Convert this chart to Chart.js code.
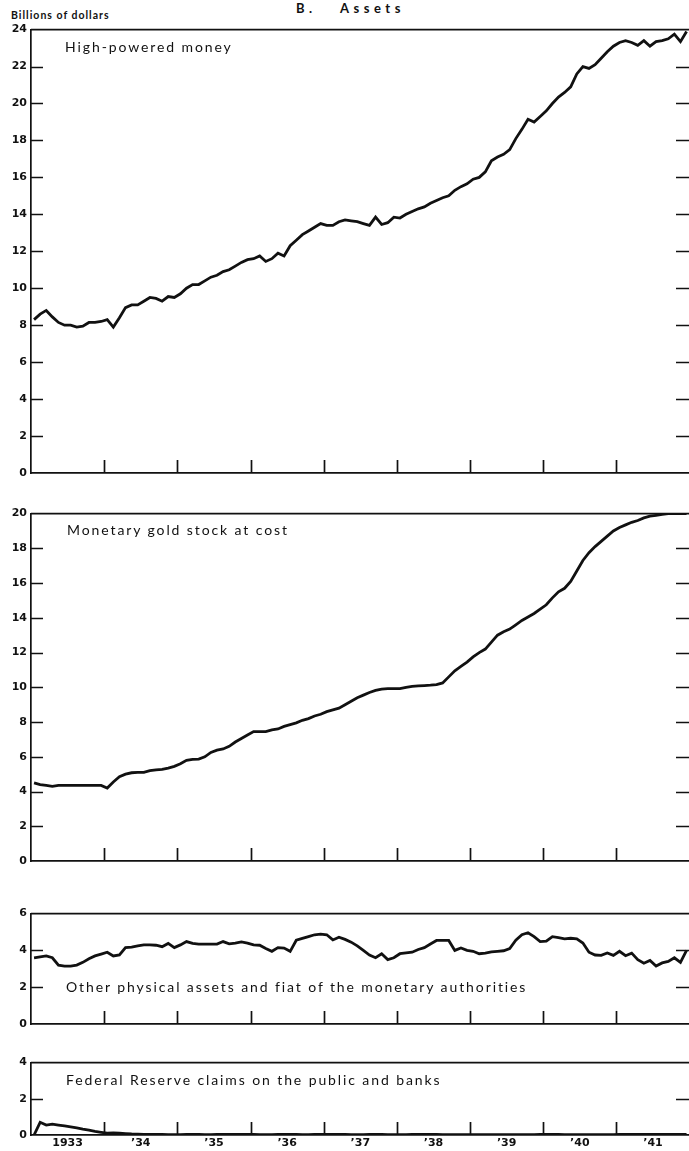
<!DOCTYPE html>
<html>
<head>
<meta charset="utf-8">
<script src="https://cdn.jsdelivr.net/npm/chart.js@4.4.1/dist/chart.umd.min.js"></script>
<style>
  html, body { margin: 0; padding: 0; background: #fff; }
  #page { position: relative; width: 689px; height: 1151px; overflow: hidden; font-family: "Lato", "DejaVu Sans", sans-serif; color: #111; }
  .cv { position: absolute; left: 0; }
  .txt { position: absolute; white-space: nowrap; line-height: 1; }
  .title { top: 2px; font-size: 13px; font-weight: bold; letter-spacing: 4.5px; }
  .unit { top: 10px; left: 11px; font-size: 10.5px; font-weight: bold; letter-spacing: 1px; }
  .lbl { font-size: 14px; letter-spacing: 1.9px; }
</style>
</head>
<body>
<div id="page">
  <div class="txt title" style="left:296px">B.</div>
  <div class="txt title" style="left:340px">Assets</div>
  <div class="txt unit">Billions of dollars</div>

  <canvas id="c1" class="cv" style="top:19px"></canvas>
  <canvas id="c2" class="cv" style="top:503px"></canvas>
  <canvas id="c3" class="cv" style="top:903px"></canvas>
  <canvas id="c4" class="cv" style="top:1052px"></canvas>

  <div class="txt lbl" style="left:65px;top:40px">High-powered money</div>
  <div class="txt lbl" style="left:67px;top:523px">Monetary gold stock at cost</div>
  <div class="txt lbl" style="left:66px;top:980px">Other physical assets and fiat of the monetary authorities</div>
  <div class="txt lbl" style="left:66px;top:1073px">Federal Reserve claims on the public and banks</div>
</div>

<script>
// monthly values, Jan 1933 .. Dec 1941, billions of dollars
const highPowered = [
  8.3, 8.6, 8.8, 8.45, 8.15, 8.0, 8.0, 7.9, 7.95, 8.15,
  8.15, 8.2, 8.3, 7.9, 8.4, 8.95, 9.1, 9.1, 9.3, 9.5,
  9.45, 9.3, 9.55, 9.5, 9.7, 10.0, 10.2, 10.2, 10.4, 10.6,
  10.7, 10.9, 11.0, 11.2, 11.4, 11.55, 11.6, 11.75, 11.45, 11.6,
  11.9, 11.75, 12.3, 12.6, 12.9, 13.1, 13.3, 13.5, 13.4, 13.4,
  13.6, 13.7, 13.65, 13.6, 13.5, 13.4, 13.85, 13.45, 13.55, 13.85,
  13.8, 14.0, 14.15, 14.3, 14.4, 14.6, 14.75, 14.9, 15.0, 15.3,
  15.5, 15.65, 15.9, 16.0, 16.3, 16.9, 17.1, 17.25, 17.5, 18.1,
  18.6, 19.15, 19.0, 19.3, 19.6, 20.0, 20.35, 20.6, 20.9, 21.6,
  22.0, 21.9, 22.1, 22.45, 22.8, 23.1, 23.3, 23.4, 23.3, 23.15,
  23.4, 23.1, 23.35, 23.4, 23.5, 23.75, 23.35, 23.9
];
const goldStock = [
  4.5, 4.4, 4.35, 4.3, 4.35, 4.35, 4.35, 4.35, 4.35, 4.35,
  4.35, 4.35, 4.2, 4.55, 4.85, 5.0, 5.08, 5.1, 5.1, 5.2,
  5.25, 5.27, 5.35, 5.45, 5.6, 5.8, 5.85, 5.87, 6.0, 6.25,
  6.38, 6.45, 6.6, 6.85, 7.05, 7.25, 7.45, 7.45, 7.45, 7.55,
  7.6, 7.75, 7.85, 7.95, 8.1, 8.2, 8.35, 8.45, 8.6, 8.7,
  8.8, 9.0, 9.2, 9.4, 9.55, 9.7, 9.82, 9.9, 9.92, 9.92,
  9.92, 10.0, 10.05, 10.08, 10.1, 10.12, 10.15, 10.25, 10.6, 10.95,
  11.2, 11.45, 11.75, 12.0, 12.2, 12.6, 13.0, 13.2, 13.35, 13.6,
  13.85, 14.05, 14.25, 14.5, 14.75, 15.15, 15.5, 15.7, 16.1, 16.7,
  17.3, 17.75, 18.1, 18.4, 18.7, 19.0, 19.2, 19.35, 19.5, 19.6,
  19.75, 19.85, 19.9, 19.95, 20.0, 20.0, 20.0, 20.0
];
const otherAssets = [
  3.6, 3.65, 3.7, 3.6, 3.2, 3.15, 3.15, 3.2, 3.35, 3.55,
  3.7, 3.8, 3.9, 3.7, 3.75, 4.15, 4.18, 4.25, 4.3, 4.3,
  4.28, 4.2, 4.38, 4.15, 4.3, 4.48, 4.38, 4.34, 4.34, 4.34,
  4.34, 4.48, 4.36, 4.4, 4.46, 4.4, 4.3, 4.28, 4.1, 3.95,
  4.15, 4.13, 3.95, 4.55, 4.65, 4.75, 4.85, 4.88, 4.85, 4.57,
  4.72, 4.6, 4.45, 4.25, 4.0, 3.75, 3.6, 3.82, 3.5, 3.6,
  3.82, 3.86, 3.9, 4.05, 4.15, 4.35, 4.54, 4.54, 4.54, 4.0,
  4.13, 4.0, 3.95, 3.82, 3.85, 3.92, 3.95, 3.98, 4.1, 4.55,
  4.85, 4.96, 4.75, 4.48, 4.5, 4.75, 4.7, 4.63, 4.66, 4.63,
  4.4, 3.9, 3.75, 3.73, 3.86, 3.73, 3.95, 3.71, 3.85, 3.5,
  3.3, 3.45, 3.15, 3.32, 3.4, 3.6, 3.35, 4.0
];
const fedClaims = [
  0.0, 0.7, 0.55, 0.6, 0.55, 0.5, 0.45, 0.4, 0.33, 0.27,
  0.2, 0.15, 0.1, 0.12, 0.1, 0.08, 0.06, 0.05, 0.04, 0.03,
  0.03, 0.03, 0.02, 0.02, 0.02, 0.03, 0.03, 0.03, 0.02, 0.02,
  0.03, 0.04, 0.04, 0.03, 0.03, 0.03, 0.03, 0.02, 0.02, 0.02,
  0.03, 0.03, 0.03, 0.03, 0.02, 0.02, 0.03, 0.03, 0.03, 0.03,
  0.03, 0.03, 0.02, 0.02, 0.02, 0.03, 0.03, 0.03, 0.02, 0.02,
  0.02, 0.02, 0.03, 0.03, 0.03, 0.03, 0.03, 0.02, 0.02, 0.02,
  0.02, 0.02, 0.02, 0.02, 0.02, 0.02, 0.02, 0.02, 0.02, 0.02,
  0.02, 0.02, 0.02, 0.03, 0.03, 0.03, 0.03, 0.02, 0.02, 0.02,
  0.02, 0.02, 0.02, 0.02, 0.02, 0.02, 0.03, 0.03, 0.03, 0.03,
  0.03, 0.03, 0.03, 0.03, 0.03, 0.03, 0.03, 0.03
];

const yearLabels = ["1933", "\u201934", "\u201935", "\u201936", "\u201937", "\u201938", "\u201939", "\u201940", "\u201941"];
const yearStarts = [12, 24, 36, 48, 60, 72, 84, 96];      // month index of each January after 1933
const yearMids   = [6, 18, 30, 42, 54, 66, 78, 90, 102];

const INK = "#111";

// top border, inward year ticks, inward value ticks on both sides
const frame = {
  id: "frame",
  afterDraw(chart) {
    const { ctx, chartArea: a, scales: { x, y } } = chart;
    ctx.save();
    ctx.strokeStyle = INK;
    ctx.lineWidth = 1.7;
    ctx.beginPath();
    ctx.moveTo(a.left, a.top);
    ctx.lineTo(a.right, a.top);
    yearStarts.forEach(m => {
      const px = Math.round(x.getPixelForValue(m)) + 0.5;
      ctx.moveTo(px, a.bottom);
      ctx.lineTo(px, a.bottom - 13);
    });
    y.ticks.forEach(t => {
      if (t.value <= 0 || t.value >= y.max) return;
      const py = Math.round(y.getPixelForValue(t.value)) + 0.5;
      ctx.moveTo(a.left, py);
      ctx.lineTo(a.left + 12, py);
      ctx.moveTo(a.right - 13, py);
      ctx.lineTo(a.right, py);
    });
    ctx.stroke();
    ctx.restore();
  }
};

function panel(id, values, yMax, plotHeight, showYears) {
  const el = document.getElementById(id);
  el.width = 689;
  el.height = plotHeight + 10 + 16;
  el.style.width = "689px";
  el.style.height = el.height + "px";

  new Chart(el, {
    type: "line",
    data: {
      datasets: [{
        data: values.map((v, i) => ({ x: i + 0.5, y: v })),
        borderColor: INK,
        borderWidth: 2.8,
        pointRadius: 0,
        tension: 0,
        fill: false
      }]
    },
    options: {
      responsive: false,
      animation: false,
      layout: { padding: { top: 10, right: 0, left: 0, bottom: 0 } },
      plugins: { legend: { display: false }, tooltip: { enabled: false } },
      scales: {
        x: {
          type: "linear",
          min: 0,
          max: 107.9,
          grid: { display: false, drawTicks: false },
          border: { display: true, color: INK, width: 1.7 },
          afterBuildTicks: s => { s.ticks = yearMids.map(v => ({ value: v })); },
          afterFit: s => { s.height = 16; },
          ticks: {
            display: showYears,
            autoSkip: false,
            maxRotation: 0,
            padding: 2,
            color: INK,
            font: { family: "DejaVu Sans", size: 11, weight: "bold" },
            callback: (v, i) => yearLabels[i]
          }
        },
        y: {
          min: 0,
          max: yMax,
          grid: { display: false, drawTicks: false },
          border: { display: true, color: INK, width: 1.7 },
          afterFit: s => { s.width = 31; },
          ticks: {
            stepSize: 2,
            padding: 4,
            color: INK,
            font: { family: "DejaVu Sans", size: 11, weight: "bold" }
          }
        }
      }
    },
    plugins: [frame]
  });
}

panel("c1", highPowered, 24, 444, false);
panel("c2", goldStock, 20, 348, false);
panel("c3", otherAssets, 6, 111, false);
panel("c4", fedClaims, 4, 73, true);
</script>
</body>
</html>
